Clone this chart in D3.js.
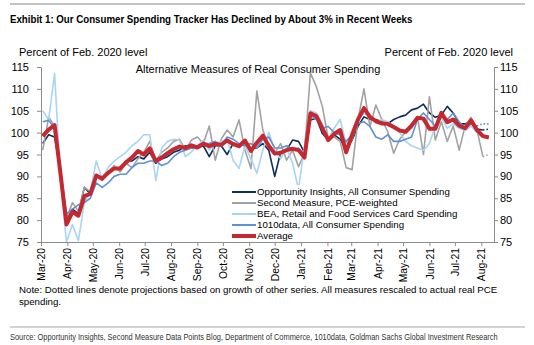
<!DOCTYPE html>
<html>
<head>
<meta charset="utf-8">
<script src="https://cdn.jsdelivr.net/npm/d3@7"></script>
<style>
  body { margin: 0; background: #fff; }
  svg { display: block; font-family: Arial, "Liberation Sans", sans-serif; }
  .narrow { font-family: "Liberation Sans Narrow", "Arial Narrow", "Liberation Sans", sans-serif; }
</style>
</head>
<body>
<svg id="chart" width="534" height="345"></svg>
<script>
// weekly readings, percent of Feb. 2020 level
const firstWeek = new Date(2020, 2, 3);

const average = [99.2, 100.7, 101.7, 90.5, 79.0, 81.9, 81.0, 85.5, 86.0, 90.2,
  89.5, 90.8, 91.8, 91.8, 93.2, 94.3, 95.8, 95.0, 96.4, 93.5,
  94.3, 95.3, 96.2, 96.8, 96.5, 97.1, 96.6, 97.5, 96.9, 97.4,
  97.2, 98.2, 97.4, 96.9, 98.2, 95.8, 97.7, 99.3, 97.0, 95.2,
  95.4, 96.0, 96.3, 96.0, 94.3, 104.4, 103.8, 101.0, 98.3, 99.7,
  100.6, 95.5, 99.5, 103.0, 105.6, 103.6, 102.6, 102.1, 102.0, 101.3,
  100.5, 100.2, 101.6, 103.4, 103.2, 100.9, 100.9, 104.5, 102.4, 103.0,
  101.6, 101.0, 102.8, 100.6, 99.2, 98.9];

const opportunityInsights = [97.5, 99.5, 99.0, 91.0, 80.0, 82.5, 81.5, 87.5, 86.0, 90.0,
  89.5, 91.0, 92.0, 91.5, 93.5, 93.5, 94.5, 94.0, 95.5, 93.0,
  94.0, 94.5, 95.5, 96.0, 97.0, 96.5, 96.5, 97.0, 94.5, 97.0,
  97.0, 95.0, 97.5, 97.0, 97.5, 96.5, 96.5, 97.5, 96.0, 90.0,
  95.5, 96.0, 98.3, 98.0, 95.5, 102.9, 103.3, 99.8, 98.3, 99.5,
  98.5, 96.0, 98.3, 101.5, 103.6, 103.0, 103.0, 102.5, 102.0, 103.0,
  103.6, 104.0, 105.2, 105.6, 106.5, 104.5, 103.5, 104.0, 106.0, 104.5,
  102.0, 102.0, 102.5, 100.8, 100.6, 100.8];

const secondMeasure = [96.0, 103.5, 101.5, 90.5, 80.5, 84.0, 82.0, 87.5, 86.5, 90.0,
  89.0, 91.0, 92.5, 91.0, 93.0, 92.0, 94.0, 95.5, 98.0, 93.5,
  95.5, 96.5, 98.0, 98.5, 96.0, 98.3, 99.0, 97.5, 101.5, 93.7,
  98.5, 100.6, 99.0, 102.9, 96.0, 91.8, 109.5, 100.6, 97.0, 95.3,
  97.5, 93.7, 96.0, 92.2, 95.3, 113.6, 110.5, 106.0, 98.7, 99.0,
  98.0, 92.0, 91.5, 103.0, 110.0, 101.4, 106.3, 103.0, 100.2, 95.3,
  98.5, 100.2, 101.0, 103.5, 95.0, 108.2, 98.3, 102.5, 98.0, 101.5,
  96.0, 101.5, 103.5, 100.5, 94.5, 95.0];

const beaCardSpending = [105.0, 103.0, 113.5, 89.0, 75.0, 79.0, 75.3, 84.0, 86.5, 93.5,
  89.5, 92.0, 93.5, 94.5, 95.5, 97.0, 98.0, 99.5, 99.5, 89.0,
  96.5, 98.0, 98.5, 98.3, 94.5, 95.6, 97.0, 98.3, 96.0, 97.5,
  98.0, 98.5, 93.7, 91.8, 97.0, 94.0, 90.7, 96.0, 100.0, 96.0,
  94.0, 96.5, 93.0, 87.0, 97.0, 105.0, 104.5, 102.0, 98.5, 101.0,
  103.0, 97.5, 98.5, 103.0, 104.4, 103.5, 102.5, 103.0, 102.5, 101.5,
  100.0, 98.0, 97.0, 96.5, 96.0, 97.5, 101.5, 103.5, 101.0, 102.0,
  101.0, 100.5, 101.5, 100.0, 99.0, 99.2];

const data1010 = [102.5, 102.8, 101.0, 91.5, 81.5, 82.5, 83.5, 84.0, 85.0, 88.5,
  87.5, 88.5, 90.0, 90.5, 90.5, 92.0, 93.0, 93.0, 93.5, 93.5,
  92.5, 93.0, 94.5, 95.5, 96.0, 96.5, 97.0, 97.5, 97.5, 98.0,
  97.0, 99.0, 98.5, 97.5, 97.0, 97.5, 96.5, 98.5, 99.0, 96.5,
  96.5, 97.0, 96.0, 96.5, 95.0, 104.0, 103.0, 101.0, 101.4, 100.0,
  99.5, 98.0, 99.5, 102.1, 102.5, 101.4, 99.0, 98.5, 99.5, 98.0,
  98.0, 98.5, 99.0, 103.0, 104.5, 103.0, 101.5, 104.0, 103.0, 104.5,
  102.5, 101.0, 102.0, 101.5, 102.0, 102.0];

const seriesNames = ['Opportunity Insights, All Consumer Spending', 'Second Measure, PCE-weighted',
  'BEA, Retail and Food Services Card Spending', '1010data, All Consumer Spending', 'Average'];
const seriesValues = [opportunityInsights, secondMeasure, beaCardSpending, data1010, average];
// index from which each series is a projection (dotted)
const projectedFrom = [74, 74, 74, 73, null];
const seriesColors = ['#0c2f5e', '#a2a2a2', '#aad4f4', '#5f92d4', '#c5282e'];
const seriesWidths = [1.6, 1.6, 1.6, 1.6, 4];

const yTicks = [75, 80, 85, 90, 95, 100, 105, 110, 115];
const monthTicks = d3.timeMonth.range(new Date(2020, 2, 1), new Date(2021, 7, 2));

const svg = d3.select('#chart');

const dates = average.map((_, i) => d3.timeDay.offset(firstWeek, 7 * i));

const x = d3.scaleTime()
  .domain([new Date(2020, 2, 1), new Date(2021, 7, 16)])
  .range([41, 494]);
const y = d3.scaleLinear().domain([75, 115]).range([242, 67]);

// squeeze a text horizontally into a given width (condensed look)
function condensed(sel, left, baseline, width) {
  const len = sel.node().getComputedTextLength();
  sel.attr('transform', `translate(${left}, ${baseline}) scale(${width / len}, 1)`);
}

// header rule and exhibit title
svg.append('line').attr('x1', 10).attr('x2', 525).attr('y1', 4).attr('y2', 4)
  .attr('stroke', '#c4c4c4').attr('stroke-width', 2);
svg.append('text').attr('class', 'narrow')
  .attr('font-size', 11.5).attr('font-weight', 'bold')
  .text('Exhibit 1: Our Consumer Spending Tracker Has Declined by About 3% in Recent Weeks')
  .call(condensed, 10, 23, 403);

svg.append('text').attr('x', 19).attr('y', 56).attr('font-size', 11)
  .text('Percent of Feb. 2020 level');
svg.append('text').attr('x', 513).attr('y', 56).attr('font-size', 11)
  .attr('text-anchor', 'end').text('Percent of Feb. 2020 level');
svg.append('text').attr('x', 258).attr('y', 73).attr('font-size', 11)
  .attr('text-anchor', 'middle').text('Alternative Measures of Real Consumer Spending');

// axes
function styleAxis(g) {
  g.selectAll('path, line').attr('stroke', '#8c8c8c');
  g.selectAll('text').attr('fill', '#000').attr('font-family', 'Arial, "Liberation Sans", sans-serif');
}

svg.append('g')
  .attr('transform', 'translate(41, 0)')
  .call(d3.axisLeft(y).tickValues(yTicks).tickSize(4).tickSizeOuter(0).tickPadding(8))
  .call(styleAxis)
  .selectAll('text').attr('font-size', 11);

svg.append('g')
  .attr('transform', 'translate(494, 0)')
  .call(d3.axisRight(y).tickValues(yTicks).tickSize(4).tickSizeOuter(0).tickPadding(2))
  .call(styleAxis)
  .selectAll('text').attr('font-size', 11);

svg.append('g')
  .attr('transform', 'translate(0, 242)')
  .call(d3.axisBottom(x).tickValues(monthTicks).tickFormat(d3.timeFormat('%b-%y')).tickSize(4).tickSizeOuter(0))
  .call(styleAxis)
  .selectAll('text')
  .attr('font-size', 10.3)
  .attr('transform', 'rotate(-90)')
  .attr('text-anchor', 'end')
  .attr('x', -6)
  .attr('y', 0)
  .attr('dy', '0.35em');

// series lines
svg.append('clipPath').attr('id', 'plot-clip')
  .append('rect').attr('x', 41).attr('y', 67).attr('width', 453).attr('height', 175);

const line = d3.line()
  .x(d => x(d.date))
  .y(d => y(d.value));

const plot = svg.append('g').attr('clip-path', 'url(#plot-clip)');

seriesValues.forEach((values, s) => {
  const points = values.map((v, i) => ({ date: dates[i], value: v, i: i }));
  const cut = projectedFrom[s];
  const solid = cut == null ? points : points.filter(d => d.i <= cut);
  plot.append('path')
    .datum(solid)
    .attr('fill', 'none')
    .attr('stroke', seriesColors[s])
    .attr('stroke-width', seriesWidths[s])
    .attr('stroke-linejoin', 'round')
    .attr('d', line);
  if (cut != null) {
    plot.append('path')
      .datum(points.filter(d => d.i >= cut))
      .attr('fill', 'none')
      .attr('stroke', seriesColors[s])
      .attr('stroke-width', seriesWidths[s])
      .attr('stroke-dasharray', '1.5,2')
      .attr('d', line);
  }
});

// legend
const legend = svg.append('g');
legend.append('rect').attr('x', 229).attr('y', 185).attr('width', 224).attr('height', 56).attr('fill', '#fff');
seriesNames.forEach((name, s) => {
  const ly = 192 + s * 11;
  legend.append('line')
    .attr('x1', 232).attr('x2', 256).attr('y1', ly).attr('y2', ly)
    .attr('stroke', seriesColors[s])
    .attr('stroke-width', s === 4 ? 4 : 2);
  legend.append('text')
    .attr('x', 257).attr('y', ly).attr('dy', '0.35em')
    .attr('font-size', 9.7)
    .text(name);
});

// note and source
svg.append('text').attr('x', 19).attr('y', 293).attr('font-size', 9.7)
  .text('Note: Dotted lines denote projections based on growth of other series. All measures rescaled to actual real PCE');
svg.append('text').attr('x', 19).attr('y', 305).attr('font-size', 9.7)
  .text('spending.');

svg.append('line').attr('x1', 10).attr('x2', 525).attr('y1', 327).attr('y2', 327)
  .attr('stroke', '#c4c4c4').attr('stroke-width', 1.5);
svg.append('text').attr('class', 'narrow')
  .attr('font-size', 9.5).attr('fill', '#333')
  .text('Source: Opportunity Insights, Second Measure Data Points Blog, Department of Commerce, 1010data, Goldman Sachs Global Investment Research')
  .call(condensed, 10, 340, 488);
</script>
</body>
</html>
